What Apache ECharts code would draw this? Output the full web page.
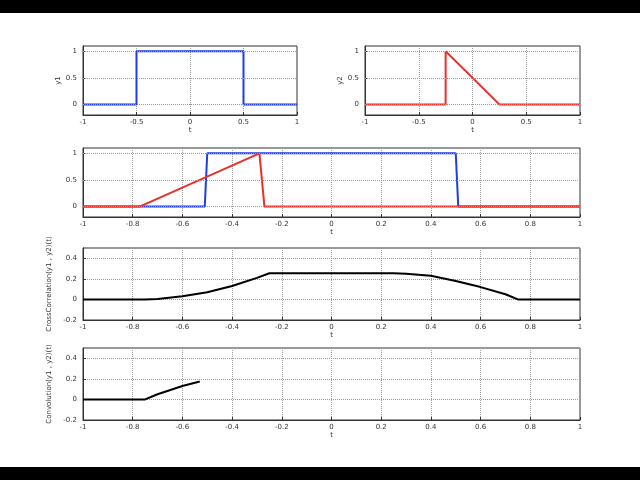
<!DOCTYPE html><html><head><meta charset="utf-8">
<script src="https://cdn.jsdelivr.net/npm/echarts@6/dist/echarts.min.js"></script>
<style>html,body{margin:0;background:#fff}#c{width:640px;height:480px}
.bar{position:absolute;left:0;width:640px;height:13px;background:#000}</style></head><body>
<div class="bar" style="top:0"></div><div id="c"></div><div class="bar" style="top:467px"></div>
<script>
const y1T=[-1,-0.5,-0.5,0.5,0.5,1], y1V=[0,0,1,1,0,0];
const y2T=[-1,-0.25,-0.25,0.25,1], y2V=[0,0,1,0,0];
const revT=[-1,-0.77,-0.29,-0.27,1], revV=[0,0,1,0,0];
const y1bT=[-1,-0.51,-0.5,0.5,0.51,1], y1bV=[0,0,1,1,0,0];
const ccT=[-1,-0.75,-0.7,-0.6,-0.5,-0.4,-0.3,-0.25,0.25,0.3,0.4,0.5,0.6,0.7,0.75,1];
const ccV=[0,0,0.005,0.03,0.07,0.13,0.21,0.255,0.255,0.25,0.23,0.18,0.12,0.05,0,0];
const cvT=[-1,-0.75,-0.7,-0.6,-0.53], cvV=[0,0,0.05,0.13,0.175];
const topYTicks=[0,0.5,1];
const pair=(t,v)=>t.map((x,i)=>[x,v[i]]);
const grids=[{left:83,top:46,width:214,height:69},{left:365,top:46,width:215,height:69},
{left:83,top:148,width:497,height:69},{left:83,top:248,width:497,height:72},{left:83,top:348,width:497,height:72}];
const lbl={fontSize:7,color:'#333',fontFamily:'DejaVu Sans'};
const split={show:true,lineStyle:{type:'dotted',color:'#999'}};
const xAxis=grids.map((g,i)=>({type:'value',gridIndex:i,min:-1,max:1,interval:i<2?0.5:0.2,name:'t',nameLocation:'middle',nameGap:12,nameTextStyle:lbl,
 axisLabel:Object.assign({margin:4,formatter:v=>String(+v.toFixed(2))},lbl),axisLine:{onZero:false,lineStyle:{color:'#333'}},axisTick:{inside:true,length:3},splitLine:split}));
const ynames=['y1','y2','','CrossCorrelation(y1 , y2)(t)','Convolution(y1 , y2)(t)'];
const yAxis=grids.map((g,i)=>i<3?{type:'value',gridIndex:i,min:-0.2,max:1.1,
 axisLabel:Object.assign({margin:6,customValues:topYTicks,formatter:v=>String(+v.toFixed(2))},lbl),
 name:ynames[i],nameLocation:'middle',nameGap:18,nameTextStyle:lbl,
 axisLine:{onZero:false,lineStyle:{color:'#333'}},axisTick:{inside:true,length:3,customValues:topYTicks},splitLine:{show:false}}:
 {type:'value',gridIndex:i,min:-0.2,max:0.5,interval:0.2,
 axisLabel:Object.assign({margin:6,showMaxLabel:false,formatter:v=>String(+v.toFixed(2))},lbl),
 name:ynames[i],nameLocation:'middle',nameGap:22,nameTextStyle:lbl,
 axisLine:{onZero:false,lineStyle:{color:'#333'}},axisTick:{inside:true,length:3},splitLine:split});
const gridML={silent:true,symbol:'none',label:{show:false},lineStyle:{type:'dotted',color:'#999',width:1},data:topYTicks.map(v=>({yAxis:v}))};
const ser=(i,d,c,ml)=>({type:'line',xAxisIndex:i,yAxisIndex:i,data:d,symbol:'none',lineStyle:{color:c,width:2},animation:false,markLine:ml,z:3});
const chart=echarts.init(document.getElementById('c'));
chart.setOption({animation:false,grid:grids.map(g=>Object.assign({show:true,borderColor:'#333',borderWidth:1},g)),xAxis,yAxis,
series:[ser(0,pair(y1T,y1V),'#1f3fe0',gridML),ser(1,pair(y2T,y2V),'#e8302a',gridML),ser(2,pair(y1bT,y1bV),'#1f3fe0',gridML),ser(2,pair(revT,revV),'#e8302a'),
ser(3,pair(ccT,ccV),'#000'),ser(4,pair(cvT,cvV),'#000')]});
</script></body></html>
